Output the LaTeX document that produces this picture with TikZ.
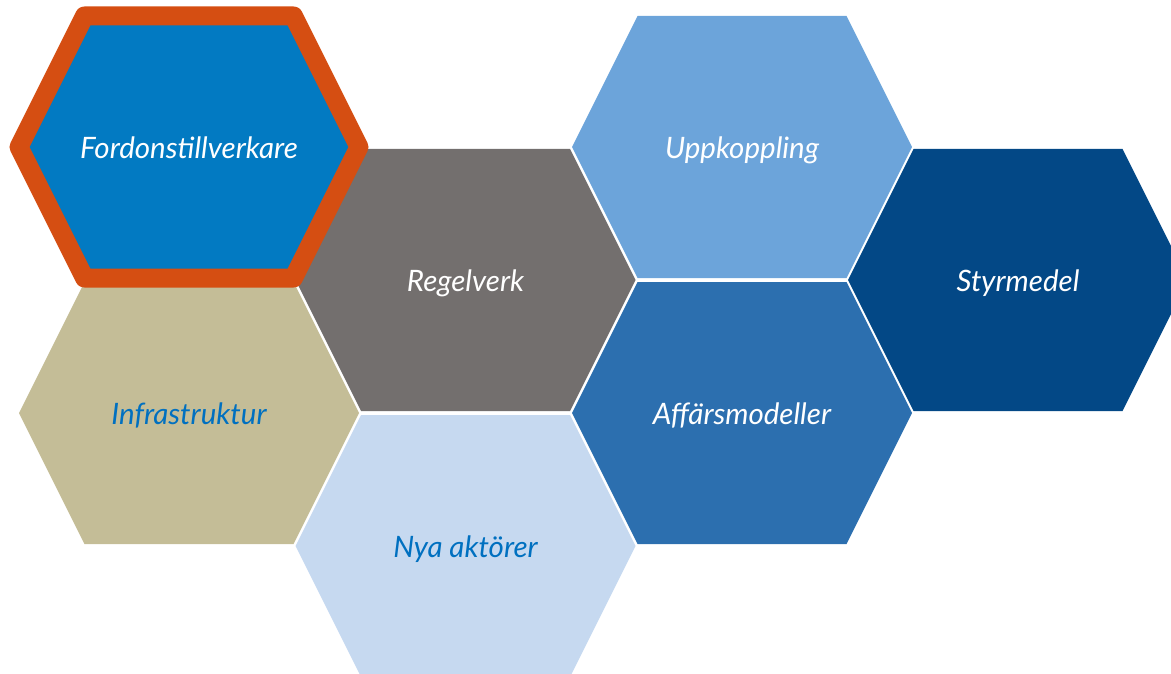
\documentclass[tikz,border=0pt]{standalone}
\usepackage{fontspec}
\setmainfont{Lato}
\usetikzlibrary{calc}
\definecolor{fordonblue}{RGB}{2,122,194}
\definecolor{borderorange}{RGB}{213,78,18}
\definecolor{regelgray}{RGB}{115,111,110}
\definecolor{uppklight}{RGB}{108,164,218}
\definecolor{styrdark}{RGB}{3,72,134}
\definecolor{infrabeige}{RGB}{196,189,151}
\definecolor{nyapale}{RGB}{198,217,240}
\definecolor{affarsblue}{RGB}{44,111,175}
\definecolor{labelblue}{RGB}{0,112,192}
\def\hexagon[#1](#2){\path[#1] ($(#2)+(-170,0)$) -- ($(#2)+(-104.5,-131)$) -- ($(#2)+(104.5,-131)$) -- ($(#2)+(170,0)$) -- ($(#2)+(104.5,131)$) -- ($(#2)+(-104.5,131)$) -- cycle;}
\tikzset{celltext/.style={anchor=base, font=\fontsize{29.5}{34}\selectfont\itshape}}

\begin{document}
\begin{tikzpicture}[x=1pt, y=-1pt]
		%%%%% START %%%%%
		\useasboundingbox (0, 0) rectangle (1171, 674);
		\clip (0, 0) rectangle (1171, 674);
		
		\hexagon[fill=regelgray](465.5, 280)
		\hexagon[fill=uppklight](742, 147)
		\hexagon[fill=styrdark](1018, 280)
		\hexagon[fill=infrabeige](189, 413)
		\hexagon[fill=nyapale](465.5, 546)
		\hexagon[fill=affarsblue](742, 413)
		
		% the marked cell goes on top
		\hexagon[fill=fordonblue, draw=borderorange, line width=19pt, line join=round](189, 147)
		
		\node[celltext, text=white] (fordon) at (189, 158.5) {Fordonstillverkare};
		\node[celltext, text=white] (regelverk) at (465.5, 291.5) {Regelverk};
		\node[celltext, text=white] (uppkoppling) at (742, 158.5) {Uppkoppling};
		\node[celltext, text=white] (styrmedel) at (1018, 291.5) {Styrmedel};
		\node[celltext, text=labelblue] (infra) at (189, 424.5) {Infrastruktur};
		\node[celltext, text=labelblue] (nya) at (465.5, 557.5) {Nya aktörer};
		\node[celltext, text=white] (affars) at (742, 424.5) {Affärsmodeller};
		
		%%%%% END %%%%%
\end{tikzpicture}
\end{document}
